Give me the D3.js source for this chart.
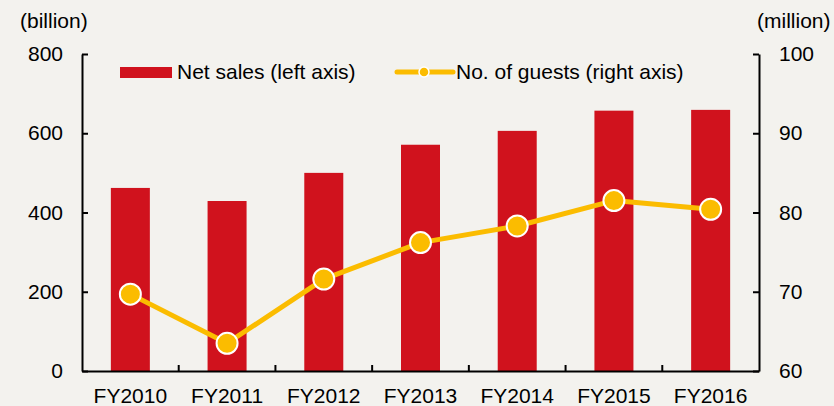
<!DOCTYPE html>
<html>
<head>
<meta charset="utf-8">
<script src="https://cdn.jsdelivr.net/npm/d3@7"></script>
<style>
  html, body { margin: 0; padding: 0; background: #f3f2ee; }
  svg { display: block; font-family: "Liberation Sans", Arial, sans-serif; }
</style>
</head>
<body>
<div class="chart"></div>
<script>
const years = ["FY2010", "FY2011", "FY2012", "FY2013", "FY2014", "FY2015", "FY2016"];
const netSales = [462, 429, 500, 571, 606, 657, 659];
const guests = [69.7, 63.5, 71.6, 76.2, 78.3, 81.5, 80.4];
const leftTicks = [0, 200, 400, 600, 800];
const rightTicks = [60, 70, 80, 90, 100];

let svgW = 834,
    svgH = 406,
    plotLeft = 82,
    plotRight = 759,
    plotTop = 54,
    plotBottom = 371,
    fontSize = 21;

const red = "#d0121d",
    gold = "#fbbc00";

const svg = d3.select(".chart")
    .append("svg")
    .attr("width", svgW)
    .attr("height", svgH);

svg.append("rect")
    .attr("width", svgW)
    .attr("height", svgH)
    .attr("fill", "#f3f2ee");

const xBand = d3.scaleBand().domain(years).range([plotLeft, plotRight]);
const yL = d3.scaleLinear().domain([0, 800]).range([plotBottom, plotTop]);
const yR = d3.scaleLinear().domain([60, 100]).range([plotBottom, plotTop]);
const cx = d => xBand(d) + xBand.bandwidth() / 2;

// bars
svg.selectAll("rect.bar")
    .data(netSales)
    .enter()
    .append("rect")
    .attr("class", "bar")
    .attr("x", (d, i) => cx(years[i]) - 19.5)
    .attr("width", 39)
    .attr("y", d => yL(d))
    .attr("height", d => plotBottom - yL(d))
    .attr("fill", red);

// axes
const axisL = svg.append("g")
    .attr("transform", `translate(${plotLeft},0)`)
    .call(d3.axisRight(yL).tickValues(leftTicks).tickSize(6).tickSizeOuter(0).tickFormat(""));
const axisR = svg.append("g")
    .attr("transform", `translate(${plotRight},0)`)
    .call(d3.axisLeft(yR).tickValues(rightTicks).tickSize(6).tickSizeOuter(0).tickFormat(""));
const axisB = svg.append("g")
    .attr("transform", `translate(0,${plotBottom})`)
    .call(d3.axisTop(xBand).tickSize(0).tickSizeOuter(0).tickFormat(""));

// category boundary ticks on the bottom axis
svg.selectAll("line.cat")
    .data(years.slice(1))
    .enter()
    .append("line")
    .attr("class", "cat")
    .attr("x1", d => xBand(d))
    .attr("x2", d => xBand(d))
    .attr("y1", plotBottom)
    .attr("y2", plotBottom - 6)
    .attr("stroke", "#000")
    .attr("stroke-width", 2);

[axisL, axisR, axisB].forEach(g => {
    g.selectAll("path, line").attr("stroke", "#000").attr("stroke-width", 2);
});

// tick labels
svg.selectAll("text.yl")
    .data(leftTicks)
    .enter()
    .append("text")
    .attr("class", "yl")
    .attr("x", 63)
    .attr("y", d => yL(d) + 7)
    .attr("text-anchor", "end")
    .attr("font-size", fontSize)
    .text(d => d);

svg.selectAll("text.yr")
    .data(rightTicks)
    .enter()
    .append("text")
    .attr("class", "yr")
    .attr("x", 779)
    .attr("y", d => yR(d) + 7)
    .attr("font-size", fontSize)
    .text(d => d);

svg.selectAll("text.xl")
    .data(years)
    .enter()
    .append("text")
    .attr("class", "xl")
    .attr("x", d => cx(d))
    .attr("y", 403)
    .attr("text-anchor", "middle")
    .attr("font-size", fontSize)
    .text(d => d);

svg.append("text").attr("x", 20).attr("y", 28).attr("font-size", fontSize).text("(billion)");
svg.append("text").attr("x", 757).attr("y", 28).attr("font-size", fontSize).text("(million)");

// guests line
const line = d3.line()
    .x((d, i) => cx(years[i]))
    .y(d => yR(d));

svg.append("path")
    .datum(guests)
    .attr("d", line)
    .attr("fill", "none")
    .attr("stroke", gold)
    .attr("stroke-width", 5)
    .attr("stroke-linejoin", "round");

svg.selectAll("circle.pt")
    .data(guests)
    .enter()
    .append("circle")
    .attr("class", "pt")
    .attr("cx", (d, i) => cx(years[i]))
    .attr("cy", d => yR(d))
    .attr("r", 10.5)
    .attr("fill", gold)
    .attr("stroke", "#fff")
    .attr("stroke-width", 2);

// legend
svg.append("rect").attr("x", 120).attr("y", 67).attr("width", 52).attr("height", 11).attr("fill", red);
svg.append("text").attr("x", 177).attr("y", 79).attr("font-size", fontSize).text("Net sales (left axis)");

svg.append("line").attr("x1", 397).attr("x2", 453).attr("y1", 72).attr("y2", 72)
    .attr("stroke", gold).attr("stroke-width", 5).attr("stroke-linecap", "round");
svg.append("circle").attr("cx", 424).attr("cy", 72).attr("r", 5)
    .attr("fill", gold).attr("stroke", "#fff").attr("stroke-width", 1.5);
svg.append("text").attr("x", 456).attr("y", 79).attr("font-size", fontSize).text("No. of guests (right axis)");
</script>
</body>
</html>
